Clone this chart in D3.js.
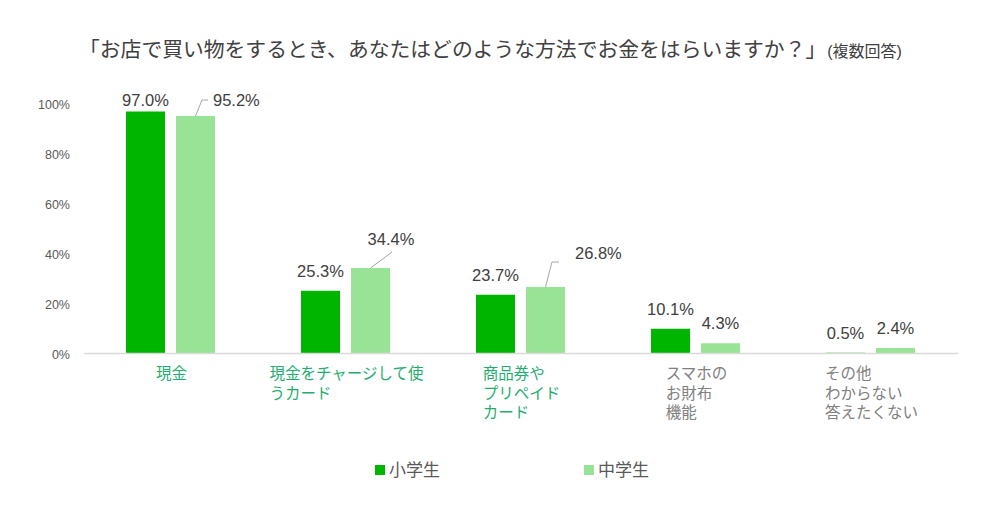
<!DOCTYPE html>
<html>
<head>
<meta charset="utf-8">
<script src="https://cdn.jsdelivr.net/npm/d3@7"></script>
<style>
  html, body { margin: 0; padding: 0; background: #fff; }
  #chart { width: 1000px; height: 510px; }
  text { font-family: "Liberation Sans", "Noto Sans CJK JP", sans-serif; }
</style>
</head>
<body>
<div id="chart"></div>
<script>
const titleMain = "「お店で買い物をするとき、あなたはどのような方法でお金をはらいますか？」";
const titleNote = "(複数回答)";
const categories = [
    ["現金"],
    ["現金をチャージして使", "うカード"],
    ["商品券や", "プリペイド", "カード"],
    ["スマホの", "お財布", "機能"],
    ["その他", "わからない", "答えたくない"]
];
const seriesNames = ["小学生", "中学生"];
const elementary = [97.0, 25.3, 23.7, 10.1, 0.5];
const juniorHigh = [95.2, 34.4, 26.8, 4.3, 2.4];
const yTicks = [0, 20, 40, 60, 80, 100];

(function drawChart() {
    const width = 1000;
    const height = 510;
    const colors = ["#00b500", "#98e396"];
    const greenLabel = "#1fae6f";
    const grayText = "#595959";

    const svg = d3.select("#chart").append("svg")
        .attr("width", width)
        .attr("height", height);

    // title
    const title = svg.append("text")
        .attr("x", 79)
        .attr("y", 57)
        .attr("fill", "#404040");
    title.append("tspan").attr("font-size", 20.8).text(titleMain);
    title.append("tspan").attr("font-size", 16).attr("dx", 1).text(titleNote);

    const x0 = d3.scaleBand().domain(d3.range(categories.length)).range([84, 959]);
    const x1 = d3.scaleBand().domain([0, 1]).range([42, 131]).paddingInner(0.22);
    const y = d3.scaleLinear().domain([0, 100]).range([354, 104]);

    // y axis labels only
    svg.append("g").selectAll("text")
        .data(yTicks)
        .join("text")
        .attr("x", 70)
        .attr("y", d => y(d) + 4.5)
        .attr("text-anchor", "end")
        .attr("font-size", 12.5)
        .attr("fill", grayText)
        .text(d => `${d}%`);

    const series = [elementary, juniorHigh];
    const groups = svg.append("g").selectAll("g")
        .data(categories)
        .join("g")
        .attr("transform", (d, i) => `translate(${x0(i)},0)`);

    groups.selectAll("rect")
        .data((d, i) => series.map((s, k) => ({ k, v: s[i] })))
        .join("rect")
        .attr("x", d => x1(d.k))
        .attr("width", x1.bandwidth())
        .attr("y", d => y(d.v))
        .attr("height", d => y(0) - y(d.v))
        .attr("fill", d => colors[d.k]);

    svg.append("line")
        .attr("x1", 84).attr("x2", 958)
        .attr("y1", 353.5).attr("y2", 353.5)
        .attr("stroke", "#d9d9d9")
        .attr("stroke-width", 1.5);

    // value labels; a few are pulled out with leader lines
    const callouts = {
        "0-1": { elbow: [6.5, -16], tail: 6, tx: 17.5, ty: -10, anchor: "start" },
        "1-1": { elbow: [21.5, -16], tail: 0, tx: 20.5, ty: -23, anchor: "middle" },
        "2-1": { elbow: [6.5, -25], tail: 7, tx: 29.5, ty: -19, anchor: "start" }
    };
    const labelLayer = svg.append("g");
    series.forEach((s, k) => {
        s.forEach((v, i) => {
            const cx = x0(i) + x1(k) + x1.bandwidth() / 2;
            const top = y(v);
            const c = callouts[`${i}-${k}`];
            let tx = cx;
            let ty = Math.max(top - 14, 106);
            let anchor = "middle";
            if (c) {
                const ex = cx + c.elbow[0];
                const ey = top + c.elbow[1];
                labelLayer.append("path")
                    .attr("d", `M${cx},${top}L${ex},${ey}L${ex + c.tail},${ey}`)
                    .attr("fill", "none")
                    .attr("stroke", "#a6a6a6")
                    .attr("stroke-width", 1);
                tx = cx + c.tx;
                ty = ey + c.ty + 16;
                anchor = c.anchor;
            }
            labelLayer.append("text")
                .attr("x", tx)
                .attr("y", ty)
                .attr("text-anchor", anchor)
                .attr("font-size", 16.5)
                .attr("fill", "#404040")
                .text(`${v.toFixed(1)}%`);
        });
    });

    // category labels: left-aligned lines, block centred under the group
    groups.each(function (lines, i) {
        const g = d3.select(this);
        const t = g.append("text")
            .attr("font-size", 15.5)
            .attr("fill", i < 3 ? greenLabel : "#808080");
        lines.forEach((line, j) => {
            t.append("tspan")
                .attr("x", 0)
                .attr("y", 379 + j * 19.5)
                .text(line);
        });
        const w = d3.max(t.selectAll("tspan").nodes(), n => n.getComputedTextLength());
        t.attr("transform", `translate(${x0.bandwidth() / 2 - w / 2},0)`);
    });

    // legend
    const legend = svg.append("g").selectAll("g")
        .data(seriesNames)
        .join("g")
        .attr("transform", (d, i) => `translate(${375 + i * 209},0)`);
    legend.append("rect")
        .attr("y", 465)
        .attr("width", 10)
        .attr("height", 10)
        .attr("fill", (d, i) => colors[i]);
    legend.append("text")
        .attr("x", 14)
        .attr("y", 476)
        .attr("font-size", 17)
        .attr("fill", grayText)
        .text(d => d);
}());
</script>
</body>
</html>
